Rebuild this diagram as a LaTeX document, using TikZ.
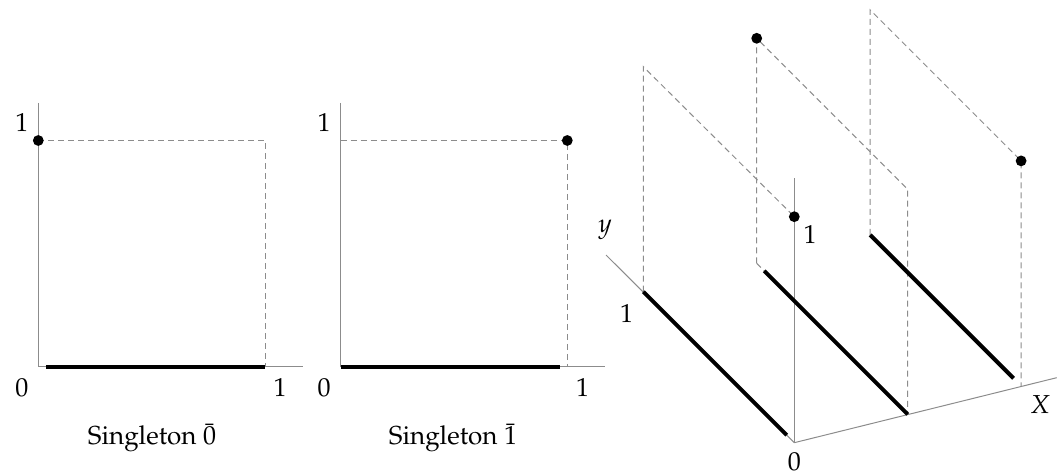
\documentclass[tikz,border=0pt]{standalone}
\usepackage[T1]{fontenc}
\usepackage{mathpazo}
\begin{document}
\begin{tikzpicture}[x=0.5pt,y=-0.5pt,
  axis/.style={draw=black!45,line width=0.5pt},
  guide/.style={draw=black!45,line width=0.5pt,dash pattern=on 3pt off 2pt},
  seg/.style={draw=black,line width=2pt},
  pt/.style={circle,fill=black,inner sep=0pt,minimum size=5.4pt},
  lab/.style={inner sep=0pt,font=\fontsize{13}{15}\selectfont}]
\useasboundingbox (0,0) rectangle (1064,474);
% ---------- panel 1: Singleton 0bar
\coordinate (o1) at (38.3,366.7);
\coordinate (x1) at (303,366.7);
\coordinate (y1) at (38.3,103);
\coordinate (c1) at (265.3,140.5);
\coordinate (r1) at (265.3,366.7);
\coordinate (s1) at (46,366.7);
\draw[axis] (y1) -- (o1) -- (x1);
\draw[guide] (o1 |- c1) -- (c1) -- (r1);
\draw[seg] (s1) -- (r1);
\node[pt] (d1) at (o1 |- c1) {};
\node[lab] (l1a) at (22,123) {1};
\node[lab] (l1b) at (22,388) {0};
\node[lab] (l1c) at (280,388) {1};
\node[lab] (cap1) at (152,438) {Singleton $\bar 0$};
% ---------- panel 2: Singleton 1bar
\coordinate (o2) at (340.7,366.7);
\coordinate (x2) at (605,366.7);
\coordinate (y2) at (340.7,103);
\coordinate (c2) at (567.3,140.5);
\coordinate (r2) at (567.3,366.7);
\coordinate (s2) at (560,366.7);
\draw[axis] (y2) -- (o2) -- (x2);
\draw[guide] (o2 |- c2) -- (c2) -- (r2);
\draw[seg] (o2) -- (s2);
\node[pt] (d2) at (c2) {};
\node[lab] (l2a) at (324,123) {1};
\node[lab] (l2b) at (324,388) {0};
\node[lab] (l2c) at (582.7,388) {1};
\node[lab] (cap2) at (453,438) {Singleton $\bar 1$};
% ---------- panel 3: 3D
\coordinate (O) at (794.3,442.7);
\coordinate (Xend) at (1056.7,377.7);
\coordinate (Yend) at (606,255);
\coordinate (Zend) at (794.3,178.3);
% plane 0
\coordinate (A0) at (794.3,442.7);
\coordinate (B0) at (643.3,291.7);
\coordinate (C0) at (643.3,66.7);
\coordinate (D0) at (794.3,216.7);
\coordinate (S0) at (786.75,435.15);
% plane 1
\coordinate (A1) at (907.7,414.3);
\coordinate (B1) at (756.7,263.3);
\coordinate (C1) at (756.7,38.3);
\coordinate (D1) at (907.7,189.3);
\coordinate (S1) at (764.25,270.85);
% plane 2
\coordinate (A2) at (1021.1,385.9);
\coordinate (B2) at (870.1,234.9);
\coordinate (C2) at (870.1,9.9);
\coordinate (D2) at (1021.1,160.9);
\coordinate (S2) at (1013.55,378.35);
\draw[axis] (O) -- (Xend);
\draw[axis] (O) -- (Yend);
\draw[axis] (O) -- (Zend);
\draw[guide] (B0) -- (C0) -- (D0);
\draw[guide] (B1) -- (C1) -- (D1) -- (A1);
\draw[guide] (B1) -- (A1);
\draw[guide] (B2) -- (C2) -- (D2) -- (A2);
\draw[seg] (S0) -- (B0);
\draw[seg] (A1) -- (S1);
\draw[seg] (S2) -- (B2);
\node[pt] (p0) at (D0) {};
\node[pt] (p1) at (C1) {};
\node[pt] (p2) at (D2) {};
\node[lab] (l3o) at (794.3,461.7) {0};
\node[lab] (l3z) at (810,235) {1};
\node[lab] (l3y) at (605,230) {$y$};
\node[lab] (l3y1) at (626.7,313.3) {1};
\node[lab] (l3x) at (1040,405) {$X$};
\end{tikzpicture}
\end{document}
